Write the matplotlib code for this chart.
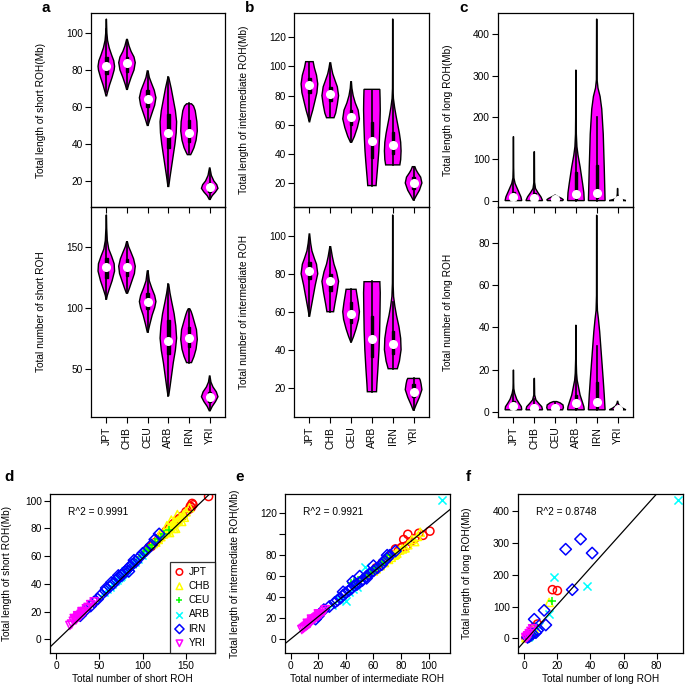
import numpy as np
import matplotlib
matplotlib.use('Agg')
import matplotlib.pyplot as plt
from matplotlib.patches import Rectangle

plt.rcParams['font.family'] = ['Liberation Sans', 'DejaVu Sans']

POPS = ['JPT', 'CHB', 'CEU', 'ARB', 'IRN', 'YRI']
MAGENTA = '#FF00FF'

# ---- violin outlines: (value, relative half-width) ----
# panel a, top: total length of short ROH (Mb)
short_len_prof = [
    [(66, .04), (68, .15), (72, .4), (76, .7), (80, .95), (82, 1), (85, .9), (88, .65), (92, .35), (96, .15), (100, .07), (104, .04), (107.5, .02)],
    [(69.5, .05), (72, .2), (76, .5), (80, .85), (84, 1), (87, .85), (90, .5), (93, .25), (96.5, .05)],
    [(50, .05), (53, .25), (57, .55), (61, .85), (65, 1), (69, .8), (73, .45), (76, .2), (79.5, .05)],
    [(17, .05), (22, .2), (28, .4), (34, .6), (40, .8), (46, .95), (52, 1), (58, .85), (64, .6), (70, .35), (76, .05)],
    [(34.2, .2), (35.5, .35), (38, .6), (42, .85), (47, 1), (52, .95), (58, .75), (60.5, .55), (61.7, .3)],
    [(10, .05), (12, .3), (14, .7), (16, 1), (18, .85), (20, .5), (23, .2), (27, .03)],
]
short_len_med = [82, 83.5, 64.5, 46, 46, 16.5]
short_len_box = [(78, 87), (79, 87), (60, 69), (38, 56), (41, 53), (14, 19)]
short_len_whisk = [(68, 102), (70, 96), (50, 79), (17, 76), (35, 62), (10, 26)]

# panel a, bottom: total number of short ROH
short_num_prof = [
    [(107, .03), (110, .12), (115, .35), (122, .7), (130, 1), (136, .95), (142, .65), (148, .3), (155, .12), (165, .05), (176, .02)],
    [(112, .08), (116, .3), (122, .6), (128, .9), (134, 1), (140, .8), (146, .45), (150, .2), (154, .05)],
    [(80, .05), (86, .25), (94, .55), (100, .85), (105, 1), (110, .85), (116, .5), (122, .2), (130, .05)],
    [(28, .05), (35, .2), (45, .4), (55, .6), (65, .85), (75, 1), (85, .9), (95, .7), (105, .4), (112, .2), (119, .05)],
    [(55, .3), (60, .6), (66, .85), (74, 1), (82, .9), (88, .65), (94, .4), (97, .25), (99, .1)],
    [(15.5, .05), (19, .3), (23, .7), (27, 1), (31, .8), (35, .4), (39, .15), (44, .03)],
]
short_num_med = [133, 133.5, 105, 73, 75, 27]
short_num_box = [(124, 141), (126, 140), (99, 112), (62, 90), (68, 84), (23, 31)]
short_num_whisk = [(107, 160), (112, 154), (80, 130), (28, 119), (55, 99), (16, 41)]

# panel b, top: total length of intermediate ROH (Mb)
inter_len_prof = [
    [(62, .03), (65, .15), (70, .4), (76, .65), (82, .9), (88, 1), (94, .85), (99, .6), (103.3, .45)],
    [(64.8, .45), (68, .65), (74, .85), (80, 1), (86, .85), (90, .6), (95, .3), (99, .15), (102.5, .05)],
    [(48, .08), (52, .4), (58, .75), (64, 1), (70, .85), (75, .5), (80, .25), (85, .1), (89.5, .04)],
    [(18.2, .5), (22, .55), (28, .64), (35, .74), (42, .83), (50, .9), (60, .96), (70, 1), (78, .98), (84.3, .95)],
    [(32.4, .85), (36, .95), (42, 1), (48, .95), (54, .8), (60, .6), (66, .4), (72, .22), (78, .08), (85, .03), (100, .02), (132.6, .015)],
    [(8.3, .05), (11, .3), (15, .7), (20, 1), (24, .85), (27, .5), (29, .3), (31.2, .15)],
]
inter_len_med = [87.5, 81, 65, 48.5, 46, 20]
inter_len_box = [(82, 92), (76, 86), (60, 70), (37, 62), (40, 55), (16, 24)]
inter_len_whisk = [(63, 103), (65, 102), (48, 86), (18, 84), (32, 78), (8.5, 31)]

# panel b, bottom: total number of intermediate ROH
inter_num_prof = [
    [(57.7, .03), (62, .2), (68, .45), (74, .7), (80, 1), (85, .85), (88, .6), (92, .3), (96, .15), (100.9, .03)],
    [(60, .4), (64, .55), (70, .8), (76, 1), (81, .75), (85, .45), (89, .25), (94.2, .05)],
    [(44.2, .05), (47, .3), (51, .6), (56, .9), (60, 1), (65, .85), (69, .7), (71.8, .6)],
    [(17.9, .55), (22, .6), (30, .72), (40, .85), (50, .93), (60, .97), (70, 1), (75.8, .95)],
    [(30, .55), (34, .8), (40, 1), (46, .95), (52, .75), (58, .45), (63, .25), (68, .1), (75, .04), (90, .02), (110.9, .015)],
    [(8.2, .05), (11, .3), (15, .7), (19, 1), (22, .9), (24, .8), (24.9, .7)],
]
inter_num_med = [81.5, 76, 59, 45.5, 43, 18]
inter_num_box = [(77, 86), (71, 80), (54, 65), (36, 58), (38, 50), (15, 22)]
inter_num_whisk = [(58, 98), (60, 94), (44, 72), (18, 76), (30, 65), (8.5, 25)]

# panel c, top: total length of long ROH (Mb)
long_len_prof = [
    [(1, 1), (10, .9), (26, .55), (42, .2), (55, .06), (80, .03), (153.8, .02)],
    [(1, 1), (10, .8), (20, .45), (30, .15), (45, .04), (118, .02)],
    [(1, .9), (3, 1), (6, .8), (9, .5), (12, .2), (14, .03)],
    [(1, 1), (20, .95), (42, .8), (82, .5), (110, .25), (130, .12), (160, .05), (200, .03), (313, .02)],
    [(1, 1), (40, .95), (80, .9), (160, .78), (220, .6), (250, .4), (270, .15), (290, .04), (435, .02)],
    [(1, 1), (3, .6), (6, .25), (10, .08), (18, .03), (30, .02)],
]
long_len_med = [10, 8, 4, 16, 20, 3]
long_len_box = [(3, 22), (3, 18), (2, 7), (5, 70), (8, 85), (1, 5)]
long_len_whisk = [(1, 50), (1, 40), (1, 12), (1, 160), (1, 200), (1, 10)]

# panel c, bottom: total number of long ROH
long_num_prof = [
    [(1, 1), (2.5, .95), (4, .7), (6, .4), (8.8, .15), (11, .05), (14, .03), (19.8, .02)],
    [(1, 1), (2.5, .9), (4, .55), (5.7, .2), (8, .05), (15.9, .02)],
    [(1, .9), (2, 1), (3.3, .95), (4.3, .6), (4.9, .2)],
    [(1, 1), (2.5, .95), (5, .75), (8, .5), (12, .3), (15, .15), (18.3, .08), (25, .03), (41, .02)],
    [(1, 1), (3, .97), (8, .9), (15, .78), (22, .65), (30, .5), (38, .35), (44, .2), (48, .08), (55, .03), (93, .02)],
    [(1, 1), (1.8, .6), (2.8, .25), (4, .08), (5, .02)],
]
long_num_med = [3, 2, 2, 4, 4.5, 1.5]
long_num_box = [(2, 5), (1, 3), (1.5, 3), (2, 8), (2, 14), (1, 2)]
long_num_whisk = [(1, 10), (1, 6), (1, 4.5), (1, 18), (1, 31), (1, 3)]

# ---- scatter panels (number, length) per individual ----
d_x = {
    'JPT': [176, 158, 157, 156, 155, 154, 150, 146, 142, 140, 137, 135, 133, 131, 129, 127, 125, 122, 119, 115, 110, 107],
    'CHB': [154, 150, 147, 144, 141, 139, 137, 135, 134, 133, 132, 130, 128, 126, 124, 121, 118, 115, 112,
            145, 138, 131, 140, 136, 148, 128, 120, 133],
    'CEU': [130, 125, 121, 118, 114, 111, 108, 106, 105, 104, 102, 100, 97, 94, 90, 86, 81],
    'ARB': [99, 95, 91, 88, 85, 82, 80, 78, 76, 75, 74, 72, 70, 68, 65, 62, 59, 55],
    'IRN': [119, 114, 110, 104, 100, 96, 92, 88, 86, 83, 80, 78, 76, 73, 70, 66, 62, 57, 52, 48, 44, 40, 34, 28,
            90, 84, 72, 64, 58],
    'YRI': [44, 40, 37, 35, 33, 31, 30, 29, 28, 27, 26, 25, 24, 23, 22, 20, 18, 16, 21, 25, 30],
}
d_y = {
    'JPT': [103, 97, 98, 95, 96, 94, 92, 89, 87, 86, 84, 83, 82, 80, 79, 78, 76, 75, 73, 70, 67, 66],
    'CHB': [95, 92, 90, 88, 86, 85, 84, 83, 82, 82, 81, 80, 78, 77, 76, 74, 72, 70, 69,
            85, 80, 77, 90, 80, 88, 82, 76, 86],
    'CEU': [79, 76, 74, 72, 70, 68, 66, 65, 64, 64, 62, 61, 59, 57, 55, 52, 50],
    'ARB': [61, 58, 56, 54, 52, 50, 49, 48, 47, 46, 45, 44, 43, 42, 40, 38, 36, 34],
    'IRN': [76, 72, 68, 64, 62, 59, 56, 54, 53, 51, 49, 48, 46, 45, 43, 40, 38, 35, 32, 29, 27, 24, 21, 17,
            57, 49, 46, 41, 37],
    'YRI': [27, 25, 23, 22, 20, 19, 19, 18, 17, 17, 16, 16, 15, 14, 14, 13, 11, 10, 15, 17, 20],
}
e_x = {
    'JPT': [101, 96, 93, 90, 87, 85, 84, 82, 81, 80, 78, 76, 73, 70, 66, 62, 58],
    'CHB': [94, 92, 90, 88, 85, 83, 81, 79, 77, 76, 75, 73, 71, 68, 65, 62, 60],
    'CEU': [72, 70, 68, 66, 64, 62, 61, 60, 59, 58, 57, 56, 54, 52, 49, 46, 44],
    'ARB': [110, 54, 40, 45, 48, 42, 38, 35, 30],
    'IRN': [76, 72, 70, 68, 66, 63, 60, 57, 55, 52, 50, 48, 46, 44, 42, 40, 38, 36, 34, 32, 28, 24, 20, 18,
            45, 50, 38, 60, 70, 55],
    'YRI': [25, 24, 22, 21, 20, 19, 18, 17, 16, 15, 14, 13, 12, 11, 10, 9, 8, 15, 20, 12],
}
e_y = {
    'JPT': [103, 99, 101, 96, 93, 100, 89, 95, 88, 87, 84, 86, 80, 76, 72, 68, 63],
    'CHB': [102, 98, 93, 95, 90, 87, 86, 85, 82, 81, 80, 78, 76, 73, 70, 67, 65],
    'CEU': [80, 77, 74, 72, 70, 68, 67, 66, 65, 64, 63, 62, 60, 58, 56, 54, 53],
    'ARB': [133, 69, 36, 48, 50, 45, 40, 38, 32],
    'IRN': [84, 80, 77, 75, 71, 68, 65, 62, 60, 56, 54, 52, 51, 48, 46, 44, 42, 39, 37, 35, 31, 28, 22, 19,
            55, 60, 45, 70, 80, 58],
    'YRI': [28, 26, 24, 23, 22, 21, 20, 19, 18, 17, 15, 14, 13, 12, 11, 10, 9, 19, 24, 15],
}
f_x = {
    'JPT': [17, 20, 8, 6, 5, 4, 3, 3, 2, 2, 1],
    'CHB': [15, 6, 5, 4, 3, 2, 2, 1],
    'CEU': [17, 5, 4, 3, 2, 1],
    'ARB': [93, 18, 38, 15, 9, 6, 4, 3, 2],
    'IRN': [34, 25, 41, 29, 12, 13, 6, 8, 7, 5, 4, 3, 2],
    'YRI': [5, 4, 3, 3, 2, 2, 1, 1],
}
f_y = {
    'JPT': [153, 150, 45, 35, 25, 18, 12, 8, 6, 4, 2],
    'CHB': [113, 30, 22, 15, 10, 7, 4, 2],
    'CEU': [117, 14, 10, 7, 4, 2],
    'ARB': [435, 193, 165, 75, 40, 25, 15, 8, 4],
    'IRN': [312, 280, 268, 153, 88, 42, 60, 25, 18, 14, 10, 6, 3],
    'YRI': [30, 22, 15, 10, 8, 5, 3, 1],
}
# regression lines (intercept, slope) and R^2
fit_d = (-1.5, 0.6)
fit_e = (0.0, 1.07)
fit_f = (-10.0, 5.8)
r2 = ['0.9991', '0.9921', '0.8748']

colors = {'JPT': '#FF0000', 'CHB': '#FFFF00', 'CEU': '#00FF00',
          'ARB': '#00FFFF', 'IRN': '#0000FF', 'YRI': '#FF00FF'}
markers = {'JPT': 'o', 'CHB': '^', 'CEU': '+', 'ARB': 'x', 'IRN': 'D', 'YRI': 'v'}

W, H = 685, 685
fig = plt.figure(figsize=(6.85, 6.85), dpi=100)


def px_axes(x0, y0, x1, y1):
    """Axes from pixel box (top-left origin)"""
    ax = fig.add_axes([x0 / W, 1 - y1 / H, (x1 - x0) / W, (y1 - y0) / H])
    ax.set_facecolor('none')
    for s in ax.spines.values():
        s.set_linewidth(0.9)
    ax.tick_params(direction='out', length=4, width=0.8, labelsize=7.3, pad=2)
    return ax


def draw_violins(ax, profs, meds, boxes, whisks):
    for i, prof in enumerate(profs):
        pos = i + 1
        ys = np.array([p[0] for p in prof])
        ws = np.array([p[1] for p in prof]) * 0.4
        ax.fill(np.concatenate([pos - ws, (pos + ws)[::-1]]),
                np.concatenate([ys, ys[::-1]]),
                facecolor=MAGENTA, edgecolor='black', lw=1.0, zorder=2)
        ax.plot([pos, pos], whisks[i], color='black', lw=1.2, zorder=3)
        q1, q3 = boxes[i]
        ax.add_patch(Rectangle((pos - 0.06, q1), 0.12, q3 - q1,
                               color='black', zorder=3))
        ax.plot(pos, meds[i], 'o', color='white', ms=5.5, zorder=4)
    ax.set_xlim(0.26, 6.74)


def violin_column(x0, x1, top, bot, letter, letter_x):
    ax_t = px_axes(x0, 13, x1, 207)
    ax_b = px_axes(x0, 207, x1, 417)
    draw_violins(ax_t, *top[0])
    draw_violins(ax_b, *bot[0])
    ax_t.set_ylim(*top[1])
    ax_b.set_ylim(*bot[1])
    ax_t.set_yticks(top[2])
    ax_b.set_yticks(bot[2])
    ax_t.set_xticks(range(1, 7))
    ax_t.set_xticklabels([])
    ax_b.set_xticks(range(1, 7))
    ax_b.set_xticklabels(POPS, rotation=90)
    ax_b.tick_params(axis='x', pad=3, labelsize=7.5)
    ax_t.set_ylabel(top[3], fontsize=7.3)
    ax_b.set_ylabel(bot[3], fontsize=7.3)
    lx = -45 / (x1 - x0)
    ax_t.yaxis.set_label_coords(lx, 0.5)
    ax_b.yaxis.set_label_coords(lx, 0.5)
    ax_t.set_zorder(2)
    fig.text(letter_x / W, 1 - 8 / H, letter, fontsize=11, fontweight='bold',
             ha='left', va='center')


violin_column(91, 225,
              ((short_len_prof, short_len_med, short_len_box, short_len_whisk), (5.9, 110.8),
               [20, 40, 60, 80, 100], 'Total length of short ROH(Mb)'),
              ((short_num_prof, short_num_med, short_num_box, short_num_whisk), (10.4, 182.5),
               [50, 100, 150], 'Total number of short ROH'),
              'a', 42)
violin_column(294, 429,
              ((inter_len_prof, inter_len_med, inter_len_box, inter_len_whisk), (3.5, 136.7),
               [20, 40, 60, 80, 100, 120], 'Total length of intermediate ROH(Mb)'),
              ((inter_num_prof, inter_num_med, inter_num_box, inter_num_whisk), (4.6, 115.1),
               [20, 40, 60, 80, 100], 'Total number of intermediate ROH'),
              'b', 245)
violin_column(498, 633,
              ((long_len_prof, long_len_med, long_len_box, long_len_whisk), (-14.3, 449.5),
               [0, 100, 200, 300, 400], 'Total length of long ROH(Mb)'),
              ((long_num_prof, long_num_med, long_num_box, long_num_whisk), (-2.4, 96.9),
               [0, 20, 40, 60, 80], 'Total number of long ROH'),
              'c', 459)


def scatter_panel(x0, x1, xs, ys, fit, r2_txt, xlim, ylim, xticks, yticks,
                  xlabel, ylabel, letter, letter_x, ylab_off, yticklabels=None):
    ax = px_axes(x0, 494, x1, 653)
    for p in POPS:
        kw = dict(marker=markers[p], s=34, zorder=2)
        if markers[p] in ('+', 'x'):
            ax.scatter(xs[p], ys[p], c=colors[p], linewidths=1.1, label=p, **kw)
        else:
            ax.scatter(xs[p], ys[p], facecolors='none', edgecolors=colors[p],
                       linewidths=1.1, label=p, **kw)
    ax.axline((0, fit[0]), slope=fit[1], color='black', lw=0.9, zorder=3)
    ax.set_xlim(*xlim)
    ax.set_ylim(*ylim)
    ax.set_xticks(xticks)
    ax.set_yticks(yticks)
    if yticklabels is not None:
        ax.set_yticklabels(yticklabels)
    ax.set_xlabel(xlabel, fontsize=7.3, va='center')
    ax.set_ylabel(ylabel, fontsize=7.3)
    ax.xaxis.set_label_coords(0.5, -26 / 159)
    ax.yaxis.set_label_coords(-ylab_off / (x1 - x0), 0.5)
    ax.text(0.11, 0.885, 'R^2 = ' + r2_txt, transform=ax.transAxes,
            fontsize=7.3, ha='left', va='center')
    fig.text(letter_x / W, 1 - 477 / H, letter, fontsize=11, fontweight='bold',
             ha='left', va='center')
    return ax


ax_d = scatter_panel(50, 215, d_x, d_y, fit_d, r2[0], (-6.9, 183.4), (-9.9, 104.8),
                     [0, 50, 100, 150], [0, 20, 40, 60, 80, 100],
                     'Total number of short ROH', 'Total length of short ROH(Mb)',
                     'd', 4, 38)
leg = ax_d.legend(loc='lower right', fontsize=7.3, frameon=True, fancybox=False,
                  borderaxespad=0, handlelength=0.8, handletextpad=0.5,
                  labelspacing=0.42, borderpad=0.5, markerscale=0.8)
leg.get_frame().set_edgecolor('black')
leg.get_frame().set_linewidth(0.9)

scatter_panel(285, 450, e_x, e_y, fit_e, r2[1], (-4.2, 115.6), (-13.4, 138.5),
              [0, 20, 40, 60, 80, 100], [0, 20, 40, 60, 80, 100, 120],
              'Total number of intermediate ROH', 'Total length of intermediate ROH(Mb)',
              'e', 235, 45, yticklabels=['0', '20', '40', '60', '80', '', '120'])
scatter_panel(518, 683, f_x, f_y, fit_f, r2[2], (-3.8, 95.9), (-46, 453.6),
              [0, 20, 40, 60, 80], [0, 100, 200, 300, 400],
              'Total number of long ROH', 'Total length of long ROH(Mb)',
              'f', 466, 46)

fig.savefig('out.png', dpi=100)
